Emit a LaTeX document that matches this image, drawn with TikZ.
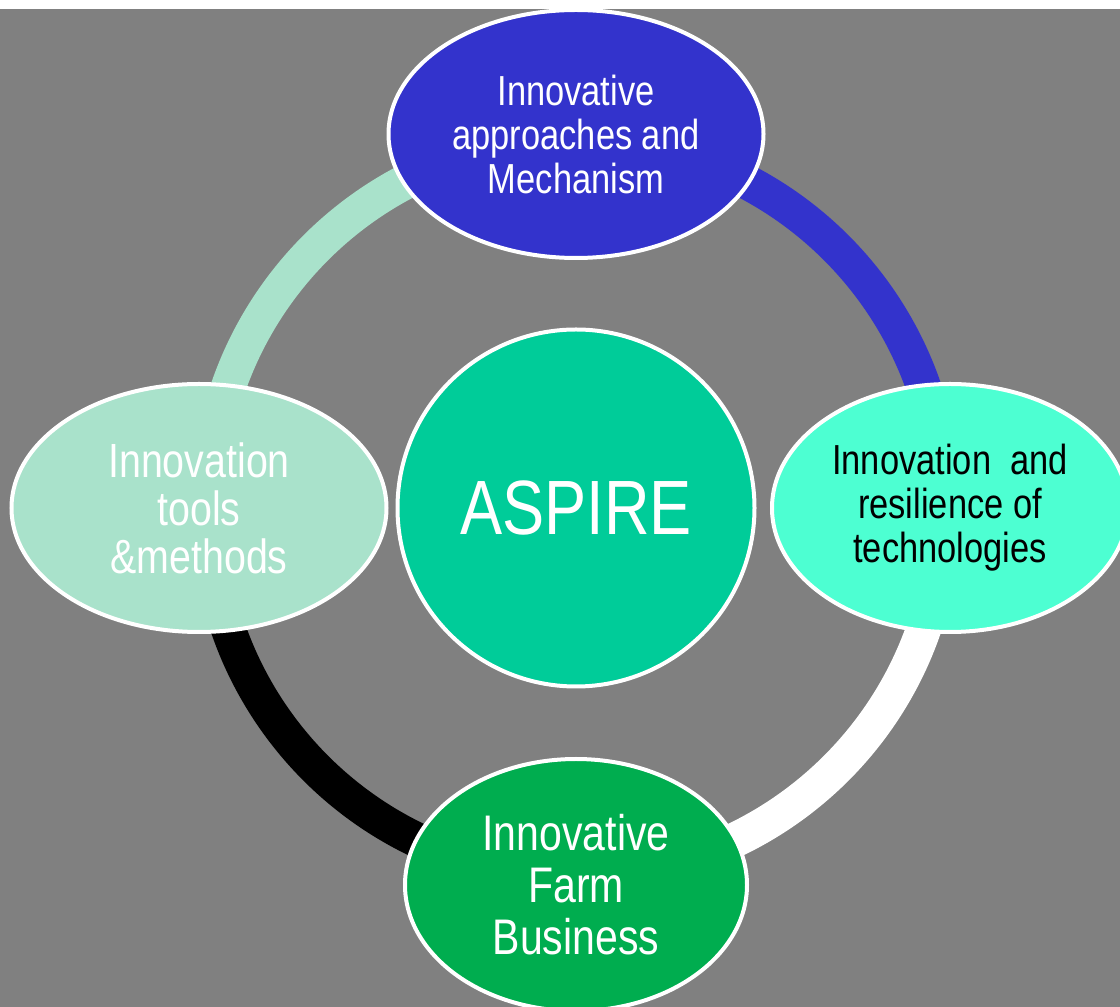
\documentclass[tikz,border=0pt]{standalone}
\usepackage{fontspec}
\setmainfont{Liberation Sans}[FakeStretch=0.82]
\usetikzlibrary{shapes.geometric}
\definecolor{bggray}{HTML}{808080}
\definecolor{topblue}{HTML}{3333CC}
\definecolor{aqua}{HTML}{4DFFD2}
\definecolor{palegreen}{HTML}{A9E2CB}
\definecolor{farmgreen}{HTML}{00AD4F}
\definecolor{coregreen}{HTML}{00CC99}
\pgfdeclarelayer{back}
\pgfdeclarelayer{ringlayer}
\pgfsetlayers{back,ringlayer,main}
\tikzset{
  bubble/.style={ellipse, draw=white, line width=4pt, inner sep=0pt, align=center},
  ringarc/.style={line width=35pt},
}
\begin{document}
\begin{tikzpicture}[x=1pt,y=1pt]
\useasboundingbox (0,0) rectangle (1120,1007);
\clip (0,0) rectangle (1120,1007);
\begin{pgfonlayer}{back}
\fill[white] (0,0) rectangle (1120,1007);
\fill[bggray] (0,0) rectangle (1120,998);
\end{pgfonlayer}

\node[circle, draw=white, line width=4pt, fill=coregreen, minimum size=357pt, inner sep=0pt,
      text=white, font=\fontsize{77}{80}\selectfont] (nC) at (576,499) {ASPIRE};

\node[bubble, fill=topblue, minimum width=375pt, minimum height=248pt, text=white,
      font=\fontsize{42}{44}\selectfont] (nT) at (576,873)
      {Innovative\\approaches and\\Mechanism};
\node[bubble, fill=aqua, minimum width=356pt, minimum height=248pt, text=black,
      font=\fontsize{42}{44}\selectfont] (nR) at (950,499)
      {Innovation\ \ and\\resilience of\\technologies};
\node[bubble, fill=palegreen, minimum width=375pt, minimum height=248pt, text=white,
      font=\fontsize{48}{48}\selectfont] (nL) at (199,499)
      {Innovation\\tools\\\&methods};
\node[bubble, fill=farmgreen, minimum width=342pt, minimum height=252pt, text=white,
      font=\fontsize{50}{52}\selectfont] (nB) at (576,122)
      {Innovative\\Farm\\Business};

\begin{pgfonlayer}{ringlayer}
\draw[ringarc, palegreen] (nC.center) ++(180:368pt) arc[start angle=180, end angle=90, radius=368pt];
\draw[ringarc, topblue] (nC.center) ++(90:368pt) arc[start angle=90, end angle=0, radius=368pt];
\draw[ringarc, white] (nC.center) ++(0:368pt) arc[start angle=0, end angle=-90, radius=368pt];
\draw[ringarc, black] (nC.center) ++(270:368pt) arc[start angle=270, end angle=180, radius=368pt];
\end{pgfonlayer}
\end{tikzpicture}
\end{document}
